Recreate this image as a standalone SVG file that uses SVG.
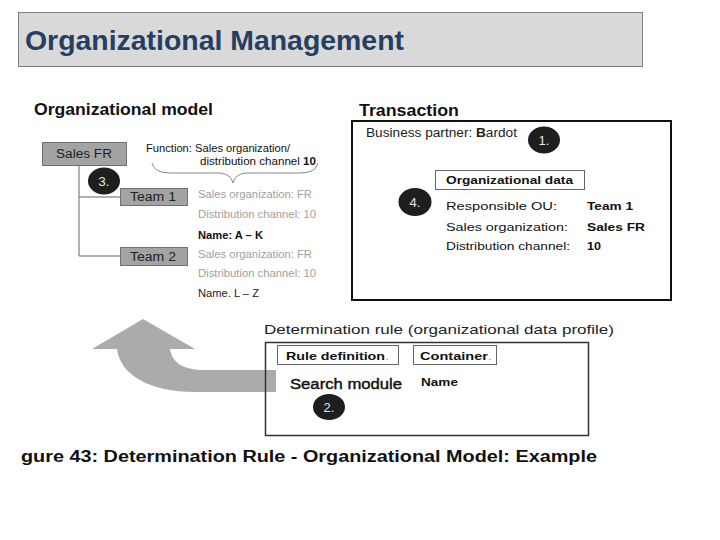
<svg xmlns="http://www.w3.org/2000/svg" width="720" height="540" viewBox="0 0 720 540">
<style>
text{font-family:"Liberation Sans",Arial,sans-serif;}
.h{font-weight:bold;font-size:16px;fill:#111;}
.gbox{fill:#a3a3a3;stroke:#707070;stroke-width:1;}
.gt{font-size:12.5px;fill:#222;text-anchor:middle;}
.lt{font-size:11px;fill:#a0a0a0;}
.bt{font-size:11px;fill:#111;font-weight:bold;}
.nt{font-size:11.5px;fill:#111;}
.circ{fill:#1e1e1e;}
.ct{font-size:13px;fill:#e6e6e6;text-anchor:middle;}
.wbox{fill:#fff;stroke:#666;stroke-width:1;}
.line{fill:none;stroke:#666;stroke-width:1;}
</style>
<rect width="720" height="540" fill="#fff"/>
<g id="title">
<rect x="18.5" y="12.5" width="624" height="54" fill="#d9d9d9" stroke="#808080" stroke-width="1"/>
<text x="25" y="50" font-size="28" font-weight="bold" fill="#243f60" textLength="379" lengthAdjust="spacingAndGlyphs">Organizational Management</text>
</g>
<g id="connectors">
<path class="line" d="M79,165 V256 M79,197 H120 M79,256 H120"/>
<path d="M152,163 Q154,173 170,173 L220,173 Q231,174 233,183 Q235,174 246,173 L300,173 Q316,173 318,163" fill="none" stroke="#888" stroke-width="1"/>
<path d="M143,319 L195,349 L170,349 C172,362 182,370 205,370 L276,370 L276,392 L195,392 C150,392 120,375 117,349 L92,349 Z" fill="#ababab"/>
</g>
<g id="org-model">
<text class="h" x="34" y="115" textLength="179" lengthAdjust="spacingAndGlyphs">Organizational model</text>
</g>
<g id="sales-fr">
<rect class="gbox" x="42.5" y="142.5" width="84" height="23"/>
<text class="gt" x="84" y="158" textLength="56" lengthAdjust="spacingAndGlyphs">Sales FR</text>
</g>
<g id="function-note">
<text class="nt" x="146" y="152" font-size="11" textLength="144" lengthAdjust="spacingAndGlyphs">Function: Sales organization/</text>
<text class="nt" x="200" y="165" font-size="11" textLength="116" lengthAdjust="spacingAndGlyphs">distribution channel <tspan font-weight="bold">10</tspan></text>
</g>
<g id="team1">
<rect class="gbox" x="120.5" y="188.5" width="67" height="17"/>
<text class="gt" x="153" y="201" textLength="46" lengthAdjust="spacingAndGlyphs">Team 1</text>
<text class="lt" x="198" y="198" textLength="114" lengthAdjust="spacingAndGlyphs">Sales organization: FR</text>
<text class="lt" x="198" y="218" textLength="118" lengthAdjust="spacingAndGlyphs">Distribution channel: 10</text>
<text class="bt" x="198" y="239" textLength="65" lengthAdjust="spacingAndGlyphs">Name: A – K</text>
</g>
<g id="step3">
<ellipse class="circ" cx="104" cy="181" rx="16" ry="13.5"/>
<text class="ct" x="104" y="186">3.</text>
</g>
<g id="team2">
<rect class="gbox" x="120.5" y="247.5" width="67" height="18"/>
<text class="gt" x="153" y="261" textLength="46" lengthAdjust="spacingAndGlyphs">Team 2</text>
<text class="lt" x="198" y="258" textLength="114" lengthAdjust="spacingAndGlyphs">Sales organization: FR</text>
<text class="lt" x="198" y="277" textLength="118" lengthAdjust="spacingAndGlyphs">Distribution channel: 10</text>
<text x="198" y="297" font-size="11" fill="#222" textLength="61" lengthAdjust="spacingAndGlyphs">Name. L – Z</text>
</g>
<g id="transaction">
<text class="h" x="359" y="116" textLength="100" lengthAdjust="spacingAndGlyphs">Transaction</text>
<rect x="352" y="121" width="319" height="179" fill="#fff" stroke="#111" stroke-width="2"/>
<text x="366" y="137" font-size="12" fill="#222" textLength="151" lengthAdjust="spacingAndGlyphs">Business partner: <tspan font-weight="bold">B</tspan>ardot</text>
</g>
<g id="step1">
<ellipse class="circ" cx="544" cy="140" rx="16" ry="13.5"/>
<text class="ct" x="544" y="145">1.</text>
</g>
<g id="org-data">
<rect class="wbox" x="435.5" y="170.5" width="149" height="19"/>
<text class="bt" x="446" y="184" font-size="12" textLength="127" lengthAdjust="spacingAndGlyphs">Organizational data</text>
<text class="nt" x="446" y="210" textLength="111" lengthAdjust="spacingAndGlyphs">Responsible OU:</text>
<text class="bt" x="587" y="210" font-size="11.5" textLength="46" lengthAdjust="spacingAndGlyphs">Team 1</text>
<text class="nt" x="446" y="231" textLength="122" lengthAdjust="spacingAndGlyphs">Sales organization:</text>
<text class="bt" x="587" y="231" font-size="11.5" textLength="58" lengthAdjust="spacingAndGlyphs">Sales FR</text>
<text class="nt" x="446" y="250" textLength="124" lengthAdjust="spacingAndGlyphs">Distribution channel:</text>
<text class="bt" x="587" y="250" font-size="11.5" textLength="14" lengthAdjust="spacingAndGlyphs">10</text>
</g>
<g id="step4">
<ellipse class="circ" cx="415" cy="202" rx="16.5" ry="14"/>
<text class="ct" x="415" y="207">4.</text>
</g>
<g id="determination-rule">
<text x="264" y="334" font-size="13.5" fill="#222" textLength="350" lengthAdjust="spacingAndGlyphs">Determination rule (organizational data profile)</text>
<rect x="265.5" y="342.5" width="323" height="93" fill="none" stroke="#333" stroke-width="1.5"/>
<rect class="wbox" x="277.5" y="345.5" width="121" height="19"/>
<text class="bt" x="286" y="360" textLength="103" lengthAdjust="spacingAndGlyphs">Rule definition<tspan fill="#999" font-weight="normal">.</tspan></text>
<rect class="wbox" x="413.5" y="345.5" width="83" height="19"/>
<text class="bt" x="420" y="360" textLength="72" lengthAdjust="spacingAndGlyphs">Container<tspan fill="#999" font-weight="normal">.</tspan></text>
<text x="290" y="389" font-size="14" fill="#111" stroke="#111" stroke-width="0.4" textLength="112" lengthAdjust="spacingAndGlyphs">Search module</text>
<text class="bt" x="421" y="386" font-size="10.5" textLength="37" lengthAdjust="spacingAndGlyphs">Name</text>
</g>
<g id="step2">
<ellipse class="circ" cx="329" cy="407" rx="16" ry="13"/>
<text class="ct" x="329" y="412">2.</text>
</g>
<g id="caption">
<text x="21" y="462" font-size="16" font-weight="bold" fill="#111" textLength="576" lengthAdjust="spacingAndGlyphs">gure 43: Determination Rule - Organizational Model: Example</text>
</g>
</svg>
